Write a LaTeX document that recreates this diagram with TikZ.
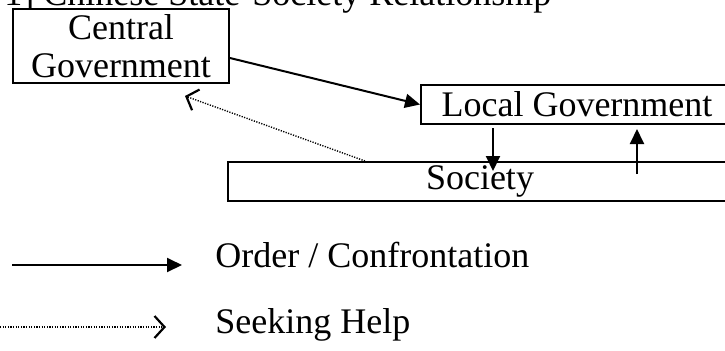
\documentclass[tikz,border=0pt]{standalone}
\usepackage{fontspec}
\setmainfont{Liberation Serif}
\usetikzlibrary{arrows.meta}
\tikzset{
  box/.style={draw, line width=1pt, rectangle, inner sep=0pt, align=center,
    font=\fontsize{18}{19}\selectfont},
  lbl/.style={inner sep=0pt, font=\fontsize{18}{19}\selectfont},
  order/.style={line width=1pt, -{Triangle[length=7.5pt,width=7pt]}},
  helpline/.style={line width=0.7pt, dash pattern=on 0.6pt off 0.7pt,
    -{Straight Barb[length=5pt,width=11pt,line width=1.1pt]}}
}
\begin{document}
\begin{tikzpicture}[x=0.5pt,y=-0.5pt]
\useasboundingbox (0,0) rectangle (725,350);
\clip (0,0) rectangle (725,350);
% title (clipped at top)
\node[lbl, anchor=base west] (title) at (43,5) {\llap{[Figure 1] }Chinese State-Society Relationship};
% boxes
\node[box, minimum width=108pt, minimum height=37pt] (central) at (121,46) {Central\\Government};
\node[box, minimum width=156pt, minimum height=19.5pt] (local) at (577,104.5) {Local Government};
\node[box, minimum width=252pt, minimum height=19.5pt] (society) at (480,181.5) {Society};
% connectors
\draw[order] ([yshift=-6pt]central.east) -- (local.west);
\draw[order] ([xshift=-42pt,yshift=-1.5pt]local.south) -- ([xshift=6.5pt,yshift=-5pt]society.north);
\draw[order] ([xshift=78.5pt,yshift=-6.5pt]society.north) -- ([xshift=30pt,yshift=-2pt]local.south);
\draw[helpline] ([xshift=-57.5pt]society.north) -- ([xshift=32pt,yshift=-6pt]central.south);
% legend
\coordinate (o1) at (12,265);
\coordinate (o2) at (182,265);
\coordinate (h1) at (0,327);
\coordinate (h2) at (166,327);
\draw[order] (o1) -- (o2);
\draw[helpline] (h1) -- (h2);
\node[lbl, anchor=base west] (ordertxt) at (215,267) {Order / Confrontation};
\node[lbl, anchor=base west] (helptxt) at (215,333) {Seeking Help};
\end{tikzpicture}
\end{document}
